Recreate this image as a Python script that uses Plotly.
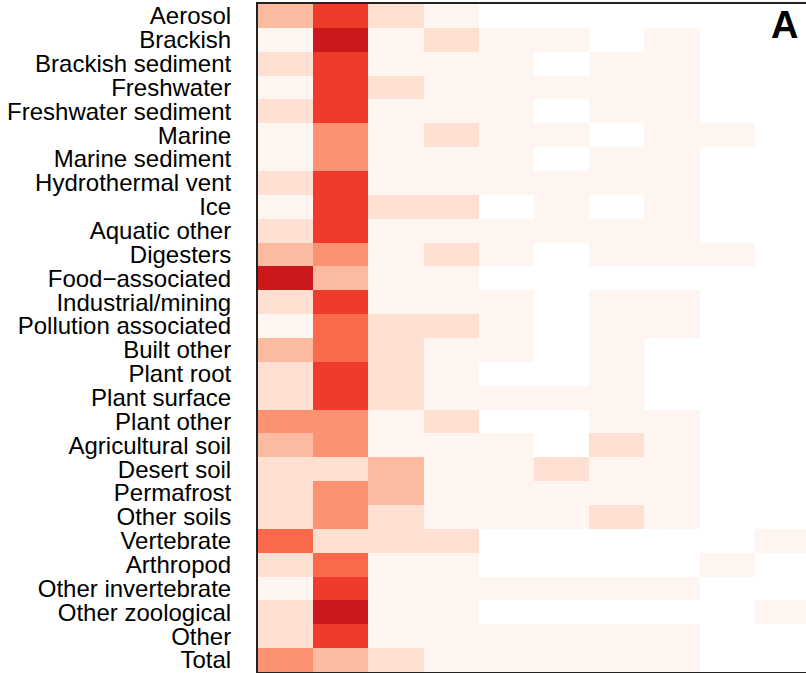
import plotly.graph_objects as go

categories = ["Aerosol", "Brackish", "Brackish sediment", "Freshwater", "Freshwater sediment",
              "Marine", "Marine sediment", "Hydrothermal vent", "Ice", "Aquatic other",
              "Digesters", "Food\u2212associated", "Industrial/mining", "Pollution associated",
              "Built other", "Plant root", "Plant surface", "Plant other", "Agricultural soil",
              "Desert soil", "Permafrost", "Other soils", "Vertebrate", "Arthropod",
              "Other invertebrate", "Other zoological", "Other", "Total"]

columns = list(range(10))

# binned abundance level per cell (0 = empty, 1..7 = Reds palette bins)
levels = [
    [3, 6, 2, 1, 0, 0, 0, 0, 0, 0],  # Aerosol
    [1, 7, 1, 2, 1, 1, 0, 1, 0, 0],  # Brackish
    [2, 6, 1, 1, 1, 0, 1, 1, 0, 0],  # Brackish sediment
    [1, 6, 2, 1, 1, 1, 1, 1, 0, 0],  # Freshwater
    [2, 6, 1, 1, 1, 0, 1, 1, 0, 0],  # Freshwater sediment
    [1, 4, 1, 2, 1, 1, 0, 1, 1, 0],  # Marine
    [1, 4, 1, 1, 1, 0, 1, 1, 0, 0],  # Marine sediment
    [2, 6, 1, 1, 1, 1, 1, 1, 0, 0],  # Hydrothermal vent
    [1, 6, 2, 2, 0, 1, 0, 1, 0, 0],  # Ice
    [2, 6, 1, 1, 1, 1, 1, 1, 0, 0],  # Aquatic other
    [3, 4, 1, 2, 1, 0, 1, 1, 1, 0],  # Digesters
    [7, 3, 1, 1, 0, 0, 0, 0, 0, 0],  # Food-associated
    [2, 6, 1, 1, 1, 0, 1, 1, 0, 0],  # Industrial/mining
    [1, 5, 2, 2, 1, 0, 1, 1, 0, 0],  # Pollution associated
    [3, 5, 2, 1, 1, 0, 1, 0, 0, 0],  # Built other
    [2, 6, 2, 1, 0, 0, 1, 0, 0, 0],  # Plant root
    [2, 6, 2, 1, 1, 1, 1, 0, 0, 0],  # Plant surface
    [4, 4, 1, 2, 0, 0, 1, 1, 0, 0],  # Plant other
    [3, 4, 1, 1, 1, 0, 2, 1, 0, 0],  # Agricultural soil
    [2, 2, 3, 1, 1, 2, 1, 1, 0, 0],  # Desert soil
    [2, 4, 3, 1, 1, 1, 1, 1, 0, 0],  # Permafrost
    [2, 4, 2, 1, 1, 1, 2, 1, 0, 0],  # Other soils
    [5, 2, 2, 2, 0, 0, 0, 0, 0, 1],  # Vertebrate
    [2, 5, 1, 1, 0, 0, 0, 0, 1, 0],  # Arthropod
    [1, 6, 1, 1, 1, 1, 1, 1, 0, 0],  # Other invertebrate
    [2, 7, 1, 1, 0, 0, 0, 0, 0, 1],  # Other zoological
    [2, 6, 1, 1, 1, 1, 1, 1, 0, 0],  # Other
    [4, 3, 2, 1, 1, 1, 1, 1, 0, 0],  # Total
]

palette = ["#ffffff", "#fff5f0", "#fee0d2", "#fcbba1", "#fc9272",
           "#fb6a4a", "#ef3b2c", "#cb181d"]

n = len(palette)
colorscale = []
for k, c in enumerate(palette):
    colorscale.append([k / n, c])
    colorscale.append([(k + 1) / n, c])

fig = go.Figure(go.Heatmap(
    z=levels, x=columns, y=categories,
    colorscale=colorscale, zmin=-0.5, zmax=n - 0.5,
    showscale=False, xgap=0, ygap=0,
))

W, H = 806, 673
L, T, B = 258, 4, 1

fig.update_layout(
    width=W, height=H,
    margin=dict(l=L, r=0, t=T, b=B, autoexpand=False),
    paper_bgcolor="white", plot_bgcolor="white",
    font=dict(family="Liberation Sans, Arial, Helvetica, sans-serif", size=24, color="black"),
    xaxis=dict(range=[-0.5, 9.43], showticklabels=False, ticks="", showgrid=False,
               zeroline=False, showline=True, linecolor="#222222", linewidth=2, mirror=True,
               automargin=False),
    yaxis=dict(range=[27.5, -0.5], ticks="", showgrid=False, zeroline=False,
               showline=True, linecolor="#222222", linewidth=2, automargin=False,
               tickmode="array", tickvals=categories, ticktext=categories,
               ticklabelstandoff=20, tickfont=dict(size=24)),
    annotations=[dict(text="<b>A</b>", xref="paper", yref="paper",
                      x=(784 - L) / (W - L), y=1 - (25 - T) / (H - T - B),
                      xanchor="center", yanchor="middle", showarrow=False,
                      font=dict(size=38, color="black"))],
)

fig.write_html("out.html", config={"displayModeBar": False},
               post_script="document.body.style.margin='0';document.body.style.overflow='hidden';")
